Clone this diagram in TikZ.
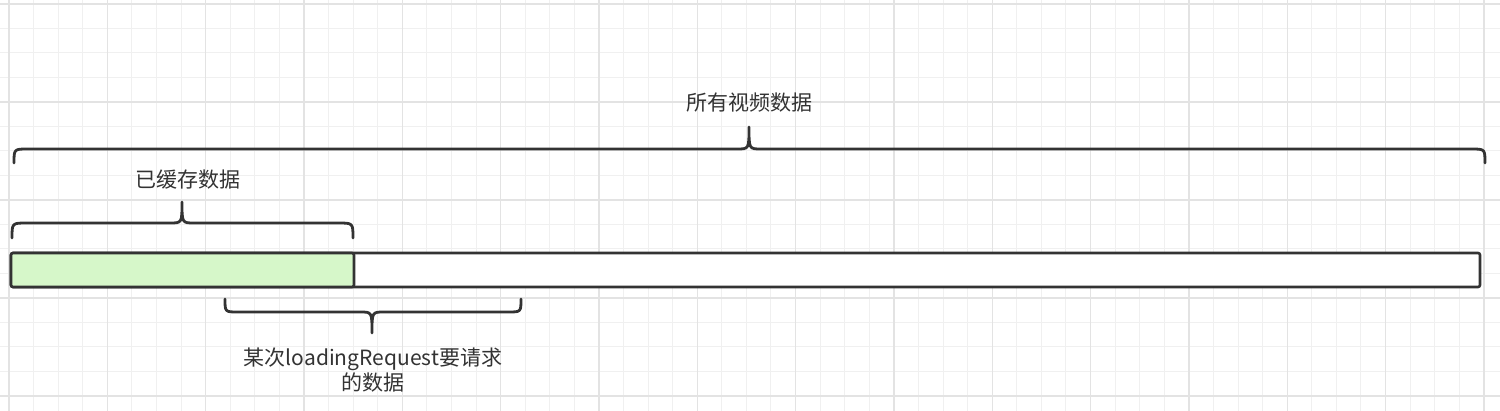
\documentclass[tikz,border=0pt]{standalone}
\usepackage{fontspec}
\setmainfont{Noto Sans CJK SC}

\begin{document}
\begin{tikzpicture}[x=0.5pt,y=-0.5pt,
  grid minor/.style={draw=black!6,line width=0.5pt},
  grid major/.style={draw=black!11,line width=0.6pt},
  brace line/.style={draw=black!80,line width=1.4pt,line cap=round,line join=round},
  bar part/.style={draw=black!80,line width=1.3pt,rounded corners=1pt},
  label node/.style={font=\fontsize{10.5}{12.5}\selectfont,text=black!80,align=center,inner sep=0pt}]

  \useasboundingbox (0,0) rectangle (1500,411);
  \fill[white] (0,0) rectangle (1500,411);

  % background grid
  \foreach \i in {0,...,60}
    \draw[grid minor] ({9+24.58*\i},0) -- ({9+24.58*\i},411);
  \foreach \j in {0,...,16}
    \draw[grid minor] (0,{4+24.5*\j}) -- (1500,{4+24.5*\j});
  \foreach \i in {0,...,15}
    \draw[grid major] ({9+98.33*\i},0) -- ({9+98.33*\i},411);
  \foreach \j in {0,...,4}
    \draw[grid major] (0,{4+98*\j}) -- (1500,{4+98*\j});

  % data bar
  \draw[bar part,fill=white] (11,253) rectangle (1480,287);
  \draw[bar part,fill={rgb,255:red,214;green,247;blue,201}] (11,253) rectangle (354,287);

  % braces
  \draw[brace line] (14,163) .. controls (14,149) .. (28,149) -- (737,149)
    .. controls (749,149) .. (749,127) .. controls (749,149) .. (761,149)
    -- (1471,149) .. controls (1485,149) .. (1485,163);
  \draw[brace line] (12,238) .. controls (12,223) .. (27,223) -- (170,223)
    .. controls (182,223) .. (182,202) .. controls (182,223) .. (194,223)
    -- (338,223) .. controls (353,223) .. (353,238);
  \draw[brace line] (225,299) .. controls (225,312) .. (238,312) -- (360,312)
    .. controls (372,312) .. (372,333) .. controls (372,312) .. (384,312)
    -- (508,312) .. controls (521,312) .. (521,299);

  \node[label node] (all) at (749,103) {所有视频数据};
  \node[label node] (cached) at (188,180) {已缓存数据};
  \node[label node] (request) at (373,370) {某次loadingRequest要请求\\的数据};

\end{tikzpicture}
\end{document}
